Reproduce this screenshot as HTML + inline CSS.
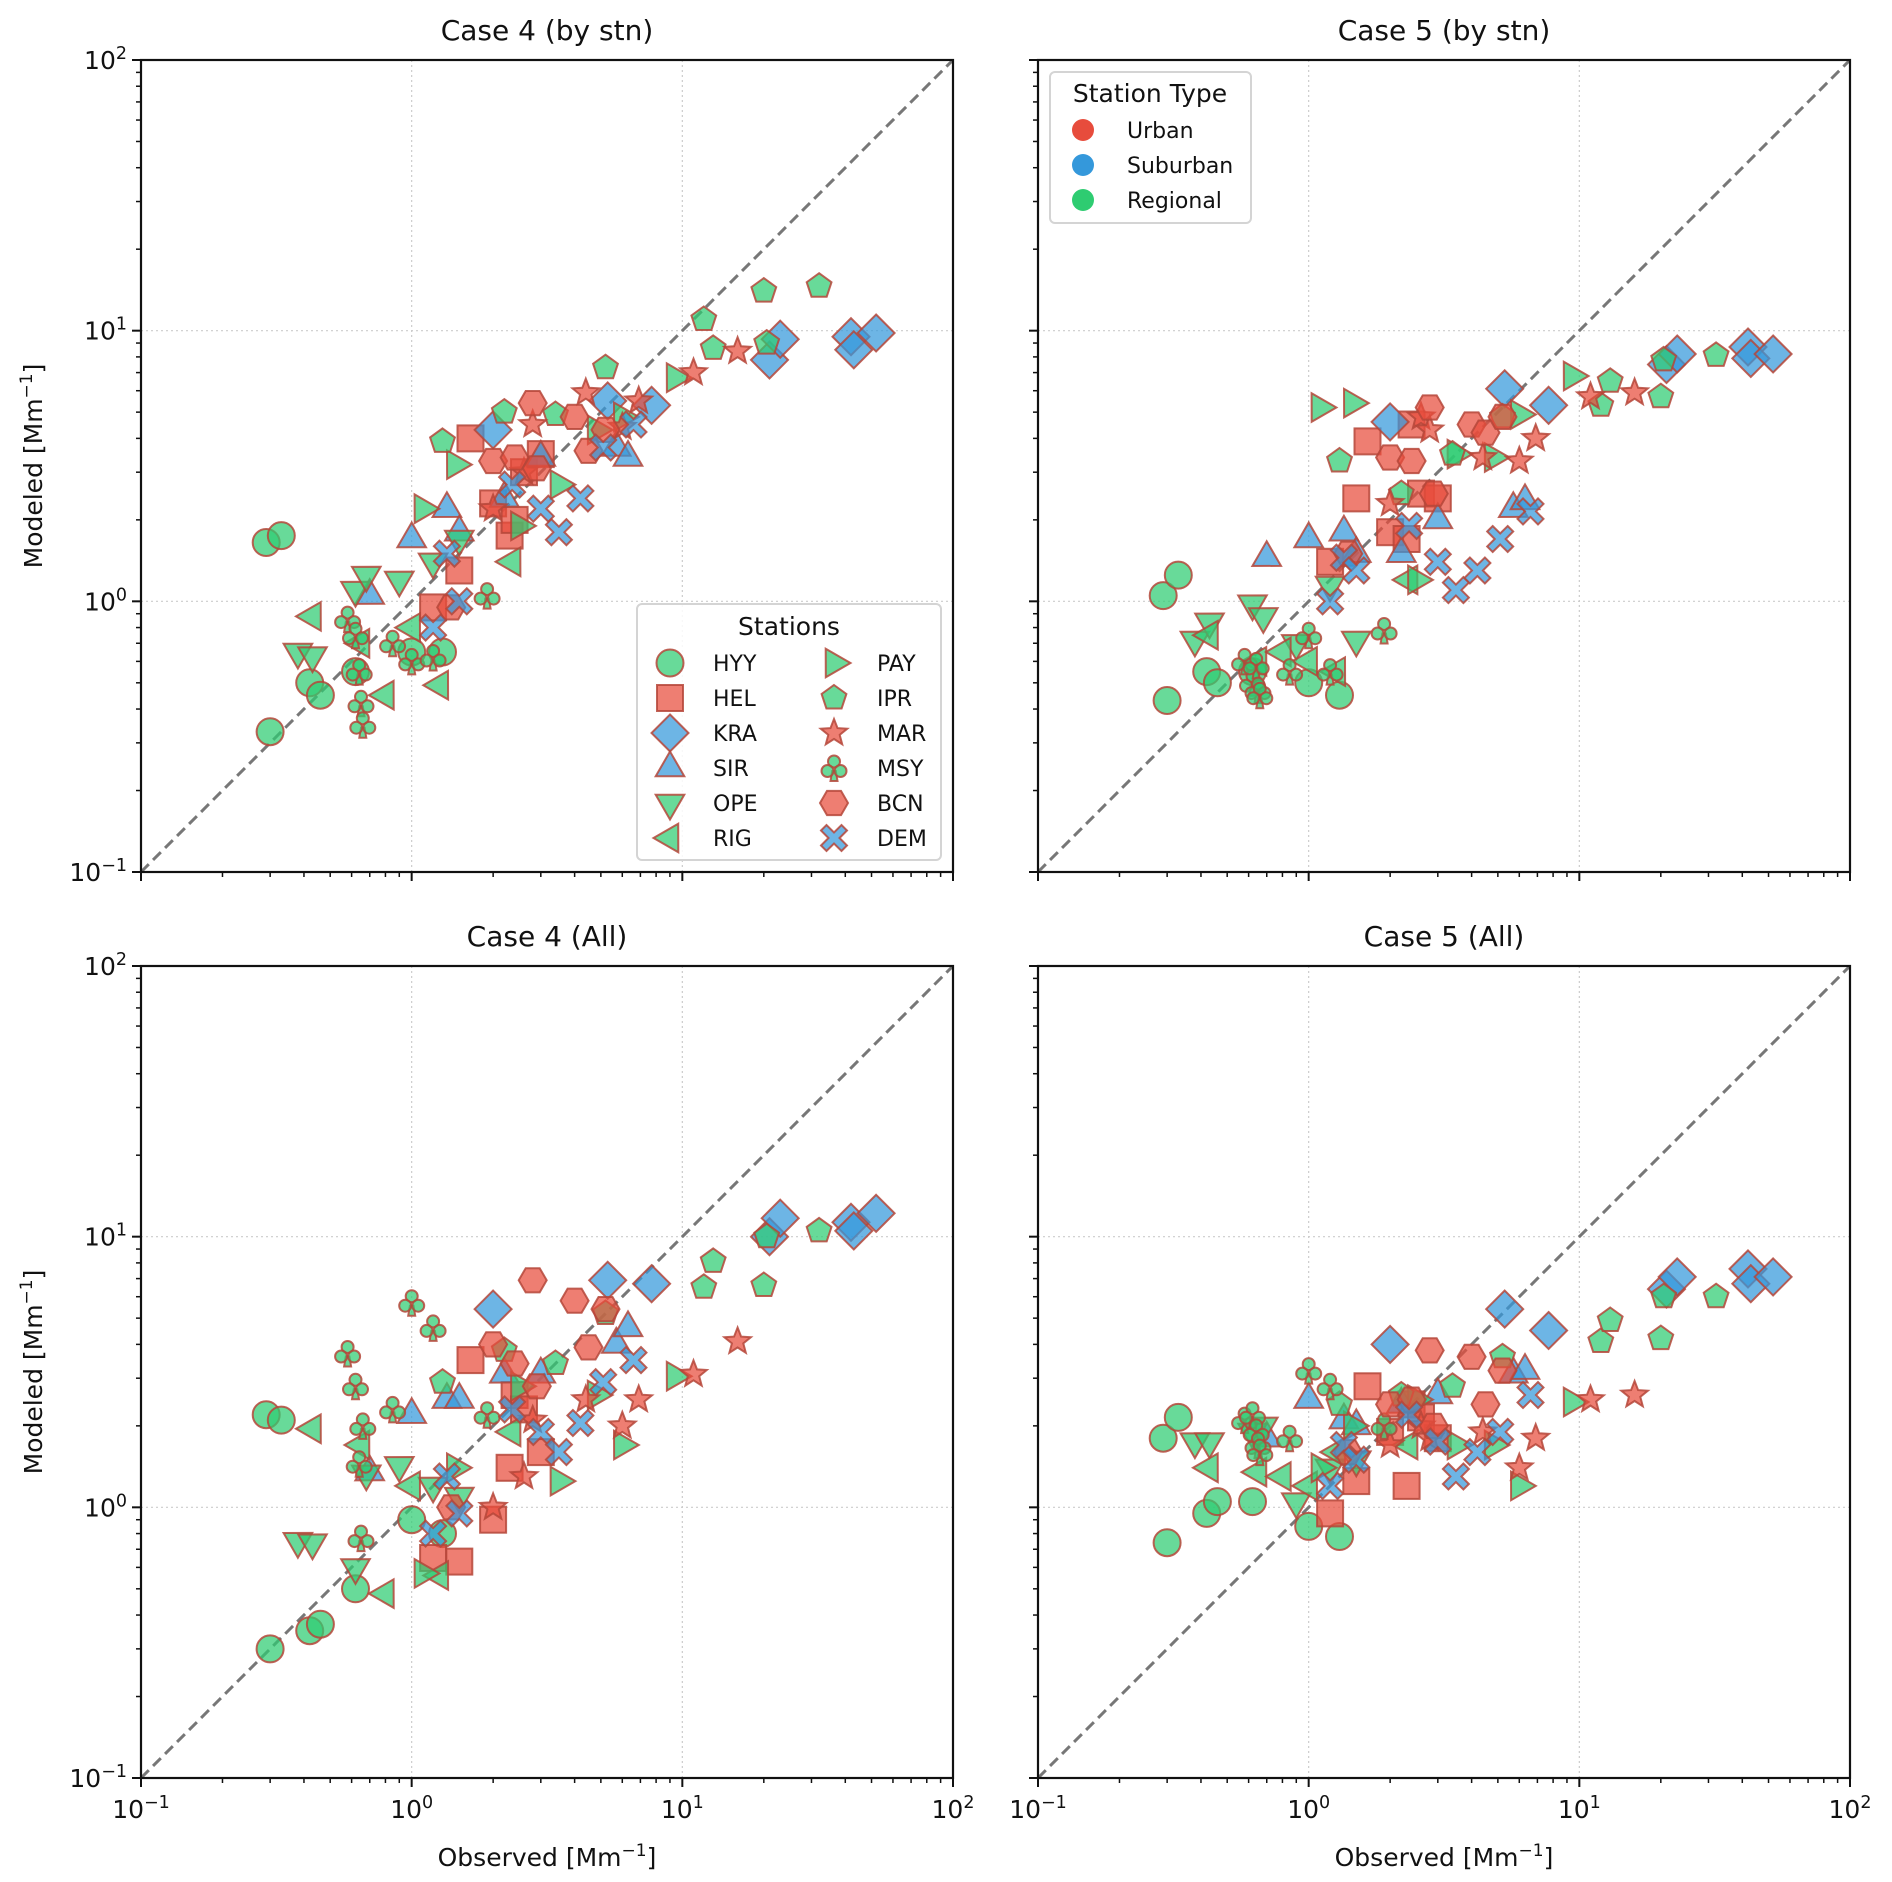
<!DOCTYPE html>
<html><head><meta charset="utf-8"><style>
body{margin:0;background:#fff}
svg{display:block;font-family:"DejaVu Sans","Liberation Sans",sans-serif}
</style></head><body>
<svg id="fig" width="1892" height="1882" viewBox="0 0 1892 1882" xmlns="http://www.w3.org/2000/svg"></svg>
<script>
// ---------- data (values in Mm^-1) ----------
const stations = ["HYY","HEL","KRA","SIR","OPE","RIG","PAY","IPR","MAR","MSY","BCN","DEM"];
const obsHYY=[0.29,0.33,0.30,0.42,0.46,0.62,1.0,1.3];
const c4sHYY=[1.65,1.75,0.33,0.5,0.45,0.55,0.65,0.65];
const c5sHYY=[1.05,1.25,0.43,0.55,0.5,0.55,0.5,0.45];
const c4aHYY=[2.2,2.1,0.3,0.35,0.37,0.5,0.9,0.8];
const c5aHYY=[1.8,2.15,0.74,0.95,1.05,1.05,0.85,0.78];
const obsHEL=[1.2,1.5,1.65,2.0,2.3,2.4,2.6,3.0];
const c4sHEL=[0.95,1.3,4.0,2.3,1.75,2.0,3.0,3.5];
const c5sHEL=[1.4,2.4,3.9,1.8,1.7,4.5,2.5,2.4];
const c4aHEL=[0.65,0.63,3.5,0.9,1.4,2.6,2.3,1.6];
const c5aHEL=[0.95,1.25,2.8,1.9,1.2,2.4,2.15,1.8];
const obsKRA=[2.0,5.3,7.7,21,23,42,43,52];
const c4sKRA=[4.3,5.5,5.3,7.8,9.3,9.5,8.5,9.8];
const c5sKRA=[4.6,6.1,5.3,7.5,8.2,8.7,7.9,8.2];
const c4aKRA=[5.4,6.9,6.7,10,11.7,11.3,10.5,12.2];
const c5aKRA=[4.0,5.4,4.5,6.4,7.1,7.6,6.7,7.1];
const obsSIR=[0.7,1.0,1.35,1.5,2.2,3.0,5.7,6.3];
const c4sSIR=[1.05,1.7,2.2,1.8,2.4,3.4,3.7,3.4];
const c5sSIR=[1.45,1.7,1.8,1.5,1.5,2.0,2.2,2.35];
const c4aSIR=[1.35,2.2,2.5,2.5,3.1,3.1,4.0,4.6];
const c5aSIR=[1.8,2.5,2.1,2.0,2.4,2.6,3.1,3.2];
const obsOPE=[0.38,0.43,0.62,0.68,0.9,1.2,1.5];
const c4sOPE=[0.65,0.63,1.1,1.25,1.2,1.4,1.7];
const c5sOPE=[0.72,0.84,0.98,0.88,0.7,1.15,0.72];
const c4aOPE=[0.75,0.74,0.6,1.33,1.43,1.2,1.1];
const c5aOPE=[1.75,1.75,1.9,2.0,1.05,1.4,1.5];
const obsRIG=[0.43,0.65,0.8,1.27,2.35,1.0];
const c4sRIG=[0.88,0.7,0.45,0.49,1.4,0.8];
const c5sRIG=[0.75,0.6,0.65,0.55,1.2,0.6];
const c4aRIG=[1.95,1.7,0.48,0.56,1.9,1.2];
const c5aRIG=[1.4,1.35,1.3,1.6,1.7,1.2];
const obsPAY=[1.1,1.45,2.5,3.5,4.8,6.0,9.4];
const c4sPAY=[2.2,3.2,1.9,2.7,4.3,4.8,6.7];
const c5sPAY=[5.2,5.4,1.2,3.5,3.4,4.9,6.8];
const c4aPAY=[0.57,1.4,2.8,1.25,2.6,1.7,3.05];
const c5aPAY=[1.4,2.0,2.5,1.7,1.7,1.2,2.45];
const obsIPR=[1.3,2.2,3.4,5.2,12,13,20,20.5,32];
const c4sIPR=[3.9,5.0,4.9,7.3,11,8.6,14,9,14.6];
const c5sIPR=[3.3,2.5,3.5,4.8,5.3,6.5,5.7,7.8,8.1];
const c4aIPR=[2.9,3.8,3.4,5.2,6.5,8.1,6.6,10,10.5];
const c5aIPR=[2.4,2.6,2.8,3.6,4.1,4.9,4.2,6,6];
const obsMAR=[2.0,2.6,2.8,4.4,6.0,6.9,11,16];
const c4sMAR=[2.2,3.0,4.5,5.9,4.4,5.5,7.0,8.4];
const c5sMAR=[2.3,4.8,4.3,3.4,3.3,4.0,5.7,5.9];
const c4aMAR=[1.0,1.3,2.1,2.5,2.0,2.5,3.1,4.1];
const c5aMAR=[1.7,2.0,1.8,1.9,1.4,1.8,2.5,2.6];
const obsMSY=[0.58,0.62,0.64,0.65,0.66,0.85,1.0,1.2,1.9];
const c4sMSY=[0.86,0.75,0.55,0.42,0.35,0.7,0.6,0.62,1.05];
const c5sMSY=[0.6,0.5,0.58,0.47,0.45,0.55,0.75,0.55,0.78];
const c4aMSY=[3.7,2.8,1.45,0.77,2.0,2.3,5.7,4.6,2.2];
const c5aMSY=[2.1,2.2,1.9,1.7,1.6,1.8,3.2,2.8,2.0];
const obsBCN=[1.4,2.0,2.4,2.8,2.9,4.0,4.5,5.2];
const c4sBCN=[0.95,3.3,3.4,5.4,3.1,4.8,3.6,4.3];
const c5sBCN=[1.5,3.4,3.3,5.2,2.5,4.5,4.2,4.8];
const c4aBCN=[1.0,4.0,3.4,6.9,2.8,5.8,3.9,5.4];
const c5aBCN=[1.6,2.4,2.5,3.8,2.0,3.6,2.4,3.2];
const obsDEM=[1.2,1.35,1.5,2.35,3.0,3.5,4.2,5.1,6.6];
const c4sDEM=[0.8,1.5,1.0,2.7,2.2,1.8,2.4,3.7,4.5];
const c5sDEM=[1.0,1.45,1.3,1.9,1.4,1.1,1.3,1.7,2.15];
const c4aDEM=[0.8,1.3,0.95,2.3,1.9,1.6,2.05,2.9,3.5];
const c5aDEM=[1.2,1.7,1.5,2.2,1.75,1.3,1.6,1.9,2.6];
const tickLabels=["-1","0","1","2"];
const panelTitles=["Case 4 (by stn)","Case 5 (by stn)","Case 4 (All)","Case 5 (All)"];

const OBS={HYY:obsHYY,HEL:obsHEL,KRA:obsKRA,SIR:obsSIR,OPE:obsOPE,RIG:obsRIG,PAY:obsPAY,IPR:obsIPR,MAR:obsMAR,MSY:obsMSY,BCN:obsBCN,DEM:obsDEM};
const MOD=[
 {HYY:c4sHYY,HEL:c4sHEL,KRA:c4sKRA,SIR:c4sSIR,OPE:c4sOPE,RIG:c4sRIG,PAY:c4sPAY,IPR:c4sIPR,MAR:c4sMAR,MSY:c4sMSY,BCN:c4sBCN,DEM:c4sDEM},
 {HYY:c5sHYY,HEL:c5sHEL,KRA:c5sKRA,SIR:c5sSIR,OPE:c5sOPE,RIG:c5sRIG,PAY:c5sPAY,IPR:c5sIPR,MAR:c5sMAR,MSY:c5sMSY,BCN:c5sBCN,DEM:c5sDEM},
 {HYY:c4aHYY,HEL:c4aHEL,KRA:c4aKRA,SIR:c4aSIR,OPE:c4aOPE,RIG:c4aRIG,PAY:c4aPAY,IPR:c4aIPR,MAR:c4aMAR,MSY:c4aMSY,BCN:c4aBCN,DEM:c4aDEM},
 {HYY:c5aHYY,HEL:c5aHEL,KRA:c5aKRA,SIR:c5aSIR,OPE:c5aOPE,RIG:c5aRIG,PAY:c5aPAY,IPR:c5aIPR,MAR:c5aMAR,MSY:c5aMSY,BCN:c5aBCN,DEM:c5aDEM}];

const GREEN="#2ecc71",RED="#e74c3c",BLUE="#3498db",EDGE="#b5473a";
const style={HYY:["circle",GREEN],HEL:["square",RED],KRA:["diamond",BLUE],SIR:["tup",BLUE],OPE:["tdown",GREEN],RIG:["tleft",GREEN],PAY:["tright",GREEN],IPR:["pent",GREEN],MAR:["star",RED],MSY:["club",GREEN],BCN:["hex",RED],DEM:["x",BLUE]};

const NS="http://www.w3.org/2000/svg";
const svg=document.getElementById("fig");
function el(tag,attrs,parent){const e=document.createElementNS(NS,tag);for(const k in attrs)e.setAttribute(k,attrs[k]);(parent||svg).appendChild(e);return e;}
function poly(n,r,rot){let p=[];for(let i=0;i<n;i++){const a=rot+i*2*Math.PI/n;p.push((r*Math.cos(a)).toFixed(1)+","+(r*Math.sin(a)).toFixed(1));}return p.join(" ");}

function marker(g,shape,cx,cy,fill,edge,sw,op){
  const gg=el("g",{transform:`translate(${cx.toFixed(1)},${cy.toFixed(1)})`,"fill":fill,"fill-opacity":op,"stroke":edge,"stroke-width":sw,"stroke-opacity":op<1?0.85:1},g);
  switch(shape){
    case"circle":el("circle",{r:13.5},gg);break;
    case"square":el("rect",{x:-13,y:-13,width:26,height:26},gg);break;
    case"diamond":el("polygon",{points:"0,-18.5 18.5,0 0,18.5 -18.5,0"},gg);break;
    case"tup":el("polygon",{points:poly(3,16.5,-Math.PI/2)},gg);break;
    case"tdown":el("polygon",{points:poly(3,16.5,Math.PI/2)},gg);break;
    case"tleft":el("polygon",{points:poly(3,16.5,Math.PI)},gg);break;
    case"tright":el("polygon",{points:poly(3,16.5,0)},gg);break;
    case"pent":el("polygon",{points:poly(5,13,-Math.PI/2)},gg);break;
    case"hex":el("polygon",{points:poly(6,14,0)},gg);break;
    case"star":{let p=[];for(let i=0;i<10;i++){const r=i%2?6:14,a=-Math.PI/2+i*Math.PI/5;p.push((r*Math.cos(a)).toFixed(1)+","+(r*Math.sin(a)).toFixed(1));}el("polygon",{points:p.join(" ")},gg);break;}
    case"club":el("path",{d:"M-1.8,3 L-3.5,13 L3.5,13 L1.8,3 Z"},gg);el("circle",{cx:0,cy:-6.5,r:6},gg);el("circle",{cx:-6.5,cy:3,r:6},gg);el("circle",{cx:6.5,cy:3,r:6},gg);break;
    case"x":el("polygon",{points:"-13,-7.5 -7.5,-13 0,-5.5 7.5,-13 13,-7.5 5.5,0 13,7.5 7.5,13 0,5.5 -7.5,13 -13,7.5 -5.5,0"},gg);break;
  }
  return gg;
}

const PW=812,DEC=PW/3;
const panels=[[141,60],[1038,60],[141,966],[1038,966]];
function sup(t,x,y,anchor,size){
  const tx=el("text",{x:x,y:y,"text-anchor":anchor,"font-size":size,fill:"#111"});
  tx.appendChild(document.createTextNode("10"));
  const s=el("tspan",{"font-size":size*0.7,dy:-size*0.4},tx);s.textContent=t.replace("-","\u2212");
  return tx;
}

panels.forEach((p,pi)=>{
  const [x0,y0]=p;
  const xs=v=>x0+(Math.log10(v)+1)*DEC;
  const ys=v=>y0+PW-(Math.log10(v)+1)*DEC;
  const g=el("g",{});
  
  
  for(let d=0;d<=3;d++){
    el("line",{x1:x0+d*DEC,x2:x0+d*DEC,y1:y0,y2:y0+PW,stroke:"#ccc","stroke-width":1.2,"stroke-dasharray":"2,3"},g);
    el("line",{x1:x0,x2:x0+PW,y1:y0+d*DEC,y2:y0+d*DEC,stroke:"#ccc","stroke-width":1.2,"stroke-dasharray":"2,3"},g);
  }
  const diag=el("line",{x1:xs(0.1),y1:ys(0.1),x2:xs(100),y2:ys(100),stroke:"#777","stroke-width":3,"stroke-dasharray":"11,6"},g);
  
  
  const pts=el("g",{},g);
  stations.forEach(st=>{
    const o=OBS[st],m=MOD[pi][st];
    for(let i=0;i<o.length;i++){
      const mk=marker(pts,style[st][0],xs(o[i]),ys(m[i]),style[st][1],EDGE,2,0.72);
      
      
    }
  });
  el("rect",{x:x0,y:y0,width:PW,height:PW,fill:"none",stroke:"#111","stroke-width":2.2},g);
  for(let d=-1;d<=2;d++){
    for(let k=1;k<=9;k++){
      const v=Math.pow(10,d)*k; if(v>100.0001) break;
      const L=k===1?9:5;
      const X=xs(v),Y=ys(v);
      el("line",{x1:X,x2:X,y1:y0+PW,y2:y0+PW+L,stroke:"#111","stroke-width":k===1?2:1.5},g);
      el("line",{x1:x0,x2:x0-L,y1:Y,y2:Y,stroke:"#111","stroke-width":k===1?2:1.5},g);
    }
  }
  for(let d=0;d<4;d++){
    if(pi>=2){const t=sup(tickLabels[d],x0+d*DEC,y0+PW+40,"middle",25);}
    if(pi%2===0){const t=sup(tickLabels[d],x0-14,y0+PW-d*DEC+9,"end",25);}
  }
  const tt=el("text",{x:x0+PW/2,y:y0-20,"text-anchor":"middle","font-size":28,fill:"#111"},g);
  tt.textContent=panelTitles[pi];
  
  
  if(pi>=2){
    const xl=el("text",{x:x0+PW/2,y:y0+PW+88,"text-anchor":"middle","font-size":25,fill:"#111"},g);
    xl.innerHTML='Observed [Mm<tspan font-size="17" dy="-10">\u22121</tspan><tspan dy="10">]</tspan>';
    
    
  }
  if(pi%2===0){
    const cy=y0+PW/2;
    const yl=el("text",{x:0,y:0,transform:`translate(42,${cy}) rotate(-90)`,"text-anchor":"middle","font-size":25,fill:"#111"},g);
    yl.innerHTML='Modeled [Mm<tspan font-size="17" dy="-10">\u22121</tspan><tspan dy="10">]</tspan>';
    
    
  }
});

const lg=el("g",{});


el("rect",{x:637,y:604,width:304,height:256,rx:5,fill:"#fff","fill-opacity":0.85,stroke:"#d4d4d4","stroke-width":2},lg);
const lt=el("text",{x:789,y:635,"text-anchor":"middle","font-size":25,fill:"#111"},lg);lt.textContent="Stations";
stations.forEach((st,i)=>{
  const col=Math.floor(i/6),row=i%6;
  const mx=col?834:670,ly=663+row*35;
  const item=el("g",{},lg);
  
  
  marker(item,style[st][0],mx,ly,style[st][1],EDGE,2,0.72);
  const t=el("text",{x:col?877:713,y:ly+8,"font-size":22,fill:"#111"},item);t.textContent=st;
});

const lg2=el("g",{});


el("rect",{x:1050,y:72,width:201,height:151,rx:5,fill:"#fff","fill-opacity":0.85,stroke:"#d4d4d4","stroke-width":2},lg2);
const lt2=el("text",{x:1150,y:102,"text-anchor":"middle","font-size":25,fill:"#111"},lg2);lt2.textContent="Station Type";
[["Urban",RED],["Suburban",BLUE],["Regional",GREEN]].forEach((d,i)=>{
  const y=130+i*35;
  const item=el("g",{},lg2);
  
  
  el("circle",{cx:1083,cy:y,r:11,fill:d[1]},item);
  const t=el("text",{x:1127,y:y+8,"font-size":22,fill:"#111"},item);t.textContent=d[0];
});
</script>
</body></html>
